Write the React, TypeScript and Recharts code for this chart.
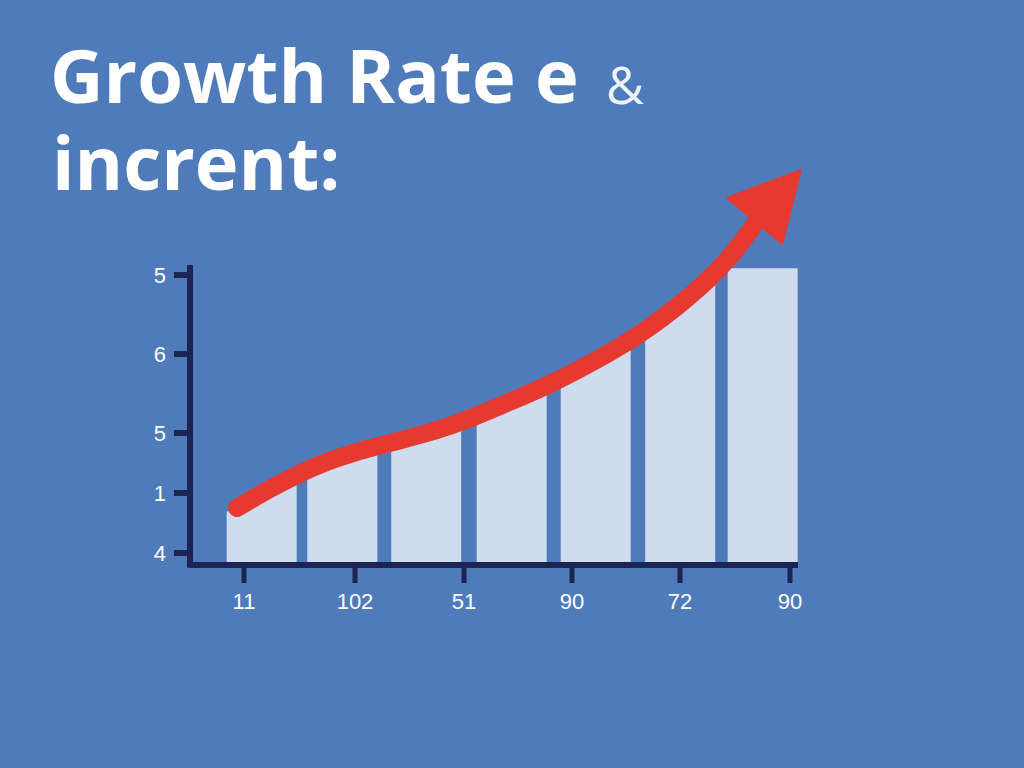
import React from 'react';
import { ComposedChart, Bar, Line, XAxis, YAxis, ReferenceLine } from 'recharts';

const barPositions = [11.84, 25.1, 38.9, 52.96, 66.78, 80.67, 94.24];
const barLeftTops = [13.1, 23.5, 30.2, 37.6, 46.1, 57.9, 73.3];
const barRightTops = [22.0, 29.3, 35.8, 44.4, 55.9, 72.5, 73.3];
const linePositions = [7.73, 13.16, 18.59, 26.81, 40.63, 50.99, 59.21, 67.43, 75.66, 83.88, 89.31, 93.26];
const lineValues = [14.07, 18.77, 22.96, 27.65, 33.33, 39.26, 44.69, 51.11, 58.77, 68.64, 77.04, 84.94];
const xTickPositions = [8.88, 27.14, 45.07, 62.83, 80.59, 98.68];
const xTickLabels = ['11', '102', '51', '90', '72', '90'];
const yTickPositions = [2.96, 17.78, 32.59, 52.1, 71.6];
const yTickLabels = ['4', '1', '5', '6', '5'];
const yAxisTop = 74.07;

const BG = '#4f7bbb';
const BAR = '#cfdbee';
const NAVY = '#1b2452';
const RED = '#e63a31';

const barData = barPositions.map((x, i) => ({ x, bar: barRightTops[i], left: barLeftTops[i] }));
const curveData = linePositions.map((x, i) => ({ x, line: lineValues[i] }));

const lastLineX = linePositions[linePositions.length - 1];

// Bar whose top edge slopes from the left-top value to the right-top value (scaled by the bar's own px/unit).
const SlopedBar = (props: any) => {
  const { x, y, width, height, payload } = props;
  if (x == null || height == null || !payload || !(height > 0)) return <g />;
  const bottom = y + height;
  const pxPerUnit = height / payload.bar;
  const leftY = bottom - payload.left * pxPerUnit;
  const d = `M${x},${bottom} L${x},${leftY} L${x + width},${y} L${x + width},${bottom} Z`;
  return <path d={d} fill={BAR} />;
};

const ArrowDot = (props: any) => {
  const { cx, cy, payload, index } = props;
  if (cx == null || cy == null || !payload || payload.x !== lastLineX) {
    return <g key={`d${index}`} />;
  }
  const pts = [
    [cx + 43, cy - 50],
    [cx - 29, cy - 23],
    [cx + 25, cy + 22],
  ]
    .map((p) => p.join(','))
    .join(' ');
  return <polygon key={`d${index}`} points={pts} fill={RED} stroke={RED} strokeWidth={3} strokeLinejoin="round" />;
};

const tickFont = { fill: '#ffffff', fontSize: 22, fontFamily: 'Liberation Sans, Arial, sans-serif' };

export default function App() {
  return (
    <div style={{ position: 'fixed', left: 0, top: 0, width: 1024, height: 768, background: BG, overflow: 'hidden' }}>
      <ComposedChart
        width={1024}
        height={768}
        data={barData}
        margin={{ top: 160, right: 226, bottom: 153, left: 130 }}
      >
        <XAxis
          dataKey="x"
          type="number"
          domain={[0, 100]}
          ticks={xTickPositions}
          interval={0}
          tickFormatter={(_v: any, i: number) => xTickLabels[i]}
          height={50}
          tickSize={18}
          tickMargin={10}
          axisLine={{ stroke: NAVY, strokeWidth: 6 }}
          tickLine={{ stroke: NAVY, strokeWidth: 5 }}
          tick={tickFont}
        />
        <XAxis xAxisId="curve" dataKey="x" type="number" domain={[0, 100]} hide />
        <YAxis
          type="number"
          domain={[0, 100]}
          ticks={yTickPositions}
          interval={0}
          tickFormatter={(_v: any, i: number) => yTickLabels[i]}
          width={60}
          tickSize={16}
          tickMargin={8}
          axisLine={false}
          tickLine={{ stroke: NAVY, strokeWidth: 6 }}
          tick={tickFont}
        />
        <ReferenceLine
          segment={[{ x: 0, y: -0.7 }, { x: 0, y: yAxisTop }]}
          stroke={NAVY}
          strokeWidth={6}
          ifOverflow="visible"
        />
        <Bar dataKey="bar" fill={BAR} barSize={70} shape={SlopedBar} isAnimationActive={false} />
        <Line
          xAxisId="curve"
          data={curveData}
          dataKey="line"
          type="natural"
          stroke={RED}
          strokeWidth={18}
          strokeLinecap="round"
          dot={ArrowDot}
          activeDot={false}
          isAnimationActive={false}
        />
      </ComposedChart>
      <svg width={1024} height={768} style={{ position: 'absolute', left: 0, top: 0, pointerEvents: 'none' }}>
        <text x={50} y={103} fill="#ffffff" fontSize={74} fontWeight={700} fontFamily="'Open Sans', Lato, sans-serif">
          Growth Rate e
        </text>
        <text x={606} y={104} fill="#eef2f9" fontSize={52} fontWeight={400} fontFamily="'Open Sans', Lato, sans-serif">
          &amp;
        </text>
        <text x={52} y={190} fill="#ffffff" fontSize={74} fontWeight={700} fontFamily="'Open Sans', Lato, sans-serif">
          incrent:
        </text>
      </svg>
    </div>
  );
}
